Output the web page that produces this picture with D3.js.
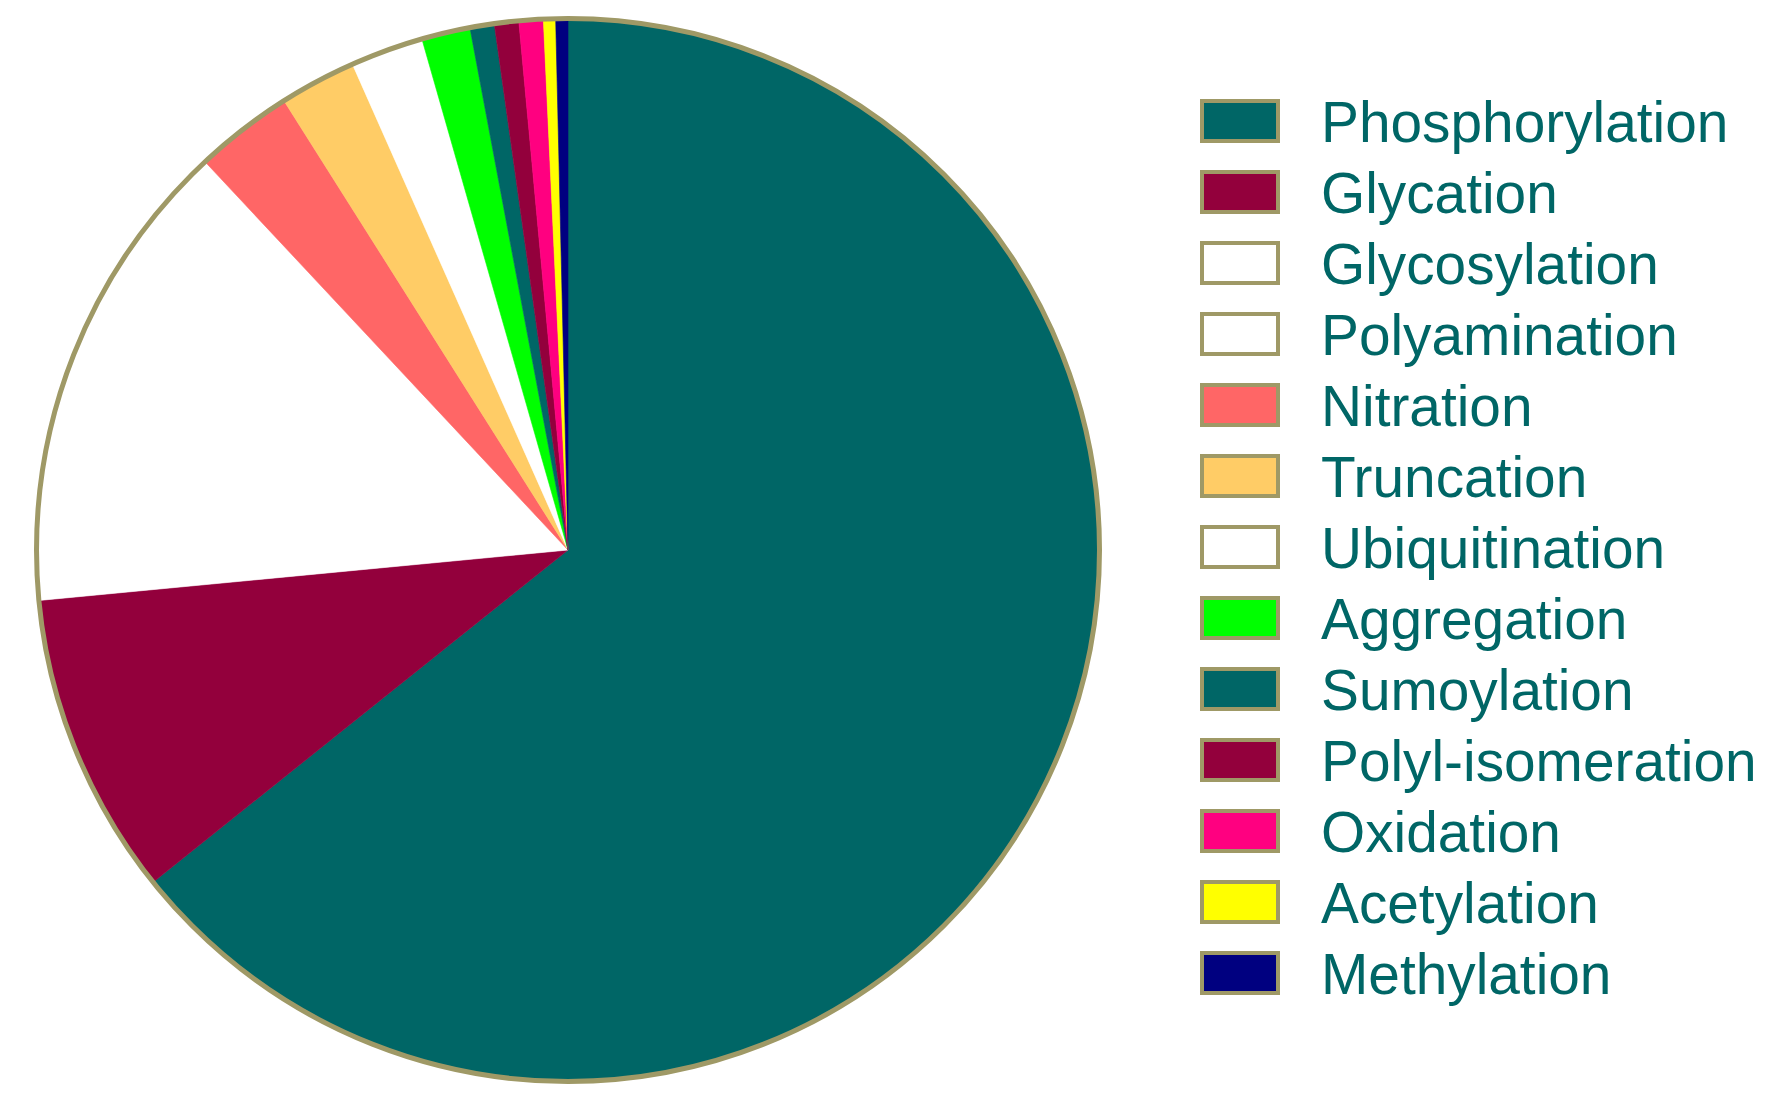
<!DOCTYPE html>
<html>
<head>
<meta charset="utf-8">
<script src="https://cdn.jsdelivr.net/npm/d3@7"></script>
<style>
html, body { margin: 0; padding: 0; background: #ffffff; }
svg { display: block; }
</style>
</head>
<body>
<svg id="chart" width="1787" height="1113"></svg>
<script>
const categories = ["Phosphorylation", "Glycation", "Glycosylation", "Polyamination", "Nitration", "Truncation", "Ubiquitination", "Aggregation", "Sumoylation", "Polyl-isomeration", "Oxidation", "Acetylation", "Methylation"];
const values = [174, 25, 36.4, 3, 8.1, 6.3, 6, 4, 2, 2, 2, 1, 1];
const colors = ["#006666", "#93003C", "#FFFFFF", "#FFFFFF", "#FF6666", "#FFCC66", "#FFFFFF", "#00FF00", "#006666", "#93003C", "#FF0080", "#FFFF00", "#000080"];

const W = 1787, H = 1113;
const cx = 568, cy = 550, R = 531.5;
const outline = "#9F9966";
const textColor = "#006666";

const svg = d3.select("#chart");

const data = categories.map((c, i) => ({ name: c, value: values[i], color: colors[i] }));

const pie = d3.pie().value(d => d.value).sort(null);
const arc = d3.arc().innerRadius(0).outerRadius(R);

const g = svg.append("g").attr("transform", `translate(${cx},${cy})`);
g.selectAll("path.slice")
  .data(pie(data))
  .join("path")
  .attr("class", "slice")
  .attr("d", arc)
  .attr("fill", d => d.data.color)
  .attr("stroke", d => d.data.color)
  .attr("stroke-width", 0.6);

g.append("circle")
  .attr("r", R)
  .attr("fill", "none")
  .attr("stroke", outline)
  .attr("stroke-width", 5);

// Legend
const legX = 1202, legY0 = 101, step = 71.0, sw = 76, sh = 40;
const leg = svg.append("g");
const rows = leg.selectAll("g.row")
  .data(data)
  .join("g")
  .attr("class", "row")
  .attr("transform", (d, i) => `translate(0,${legY0 + i * step})`);

rows.append("rect")
  .attr("x", legX)
  .attr("y", 0)
  .attr("width", sw)
  .attr("height", sh)
  .attr("fill", d => d.color)
  .attr("stroke", outline)
  .attr("stroke-width", 4);

rows.append("text")
  .attr("x", 1321)
  .attr("y", sh / 2 + 21)
  .attr("fill", textColor)
  .attr("font-family", "'Liberation Sans', Arial, sans-serif")
  .attr("font-size", 56.8)
  .text(d => d.name);
</script>
</body>
</html>
